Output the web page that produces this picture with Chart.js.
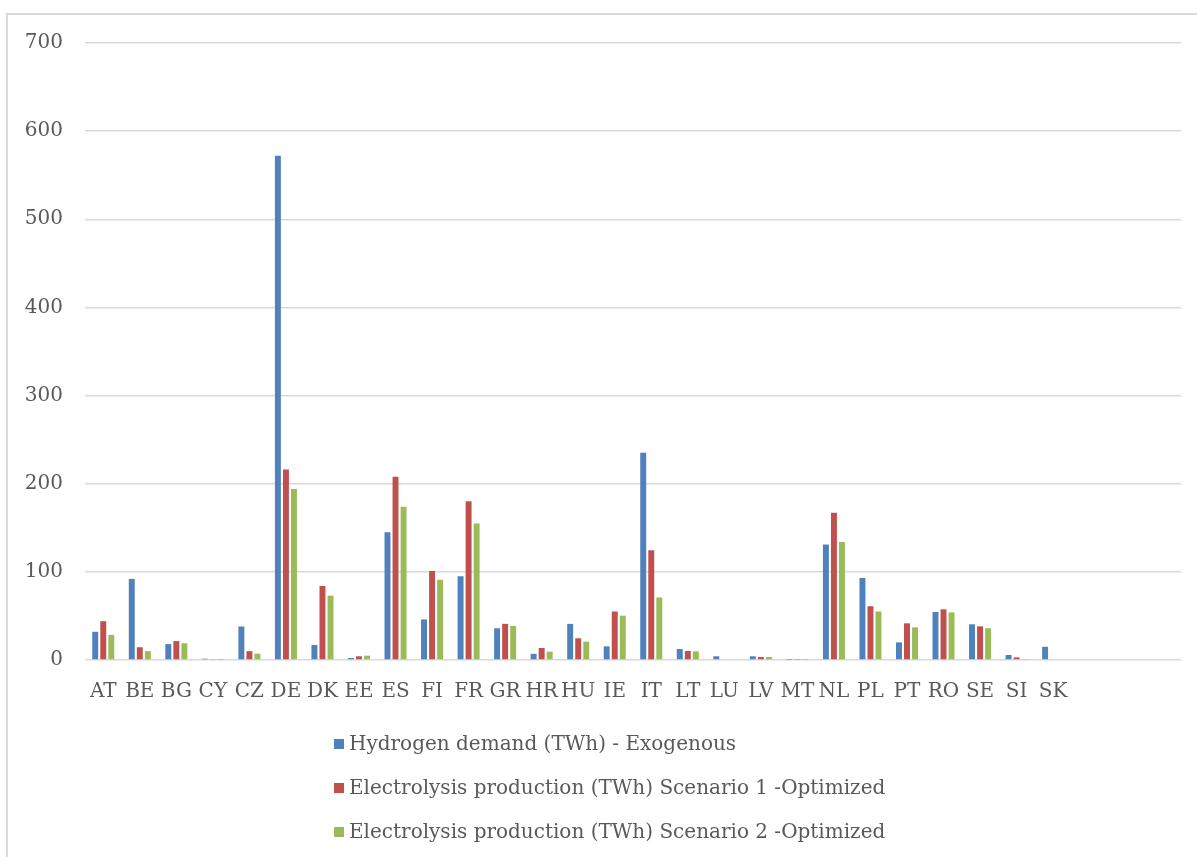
<!DOCTYPE html>
<html>
<head>
<meta charset="utf-8">
<script src="https://cdn.jsdelivr.net/npm/chart.js@4/dist/chart.umd.min.js"></script>
<style>
  html, body { margin: 0; padding: 0; background: #ffffff; }
  #wrap { position: relative; width: 1197px; height: 857px; }
  canvas { display: block; }
</style>
</head>
<body>
<div id="wrap"><canvas id="chart" width="1197" height="857"></canvas></div>
<script>
// Country codes (three spare slots at the end of the axis)
const countries = ['AT','BE','BG','CY','CZ','DE','DK','EE','ES','FI','FR','GR','HR','HU','IE','IT','LT','LU','LV','MT','NL','PL','PT','RO','SE','SI','SK','','',''];

// TWh per country
const hydrogenDemand = [32, 92, 18, 1.5, 38, 572, 17, 2.3, 145, 46, 95, 36, 7, 41, 15.5, 235, 12.5, 4.2, 4.2, 0.3, 131, 93, 20, 54.5, 40.5, 5.7, 15, null, null, null];
const scenario1      = [44, 14.5, 21.5, 1, 10, 216, 84, 4.2, 208, 101, 180, 41, 13.6, 24.6, 55, 124.5, 10.2, 0, 3.4, 0.5, 167, 61, 41.6, 57.5, 38.2, 3, 0, null, null, null];
const scenario2      = [28.5, 10, 19, 0.3, 7.2, 194, 73, 4.9, 174, 91, 155, 38.6, 9.5, 20.8, 50.3, 71, 9.8, 0, 3.4, 0.3, 134, 55, 37, 54, 36, 1.1, 0, null, null, null];

const seriesNames = [
  'Hydrogen demand (TWh) - Exogenous',
  'Electrolysis production (TWh) Scenario 1 -Optimized',
  'Electrolysis production (TWh) Scenario 2 -Optimized'
];
const seriesColors = ['#4f81bd', '#c0504d', '#9bbb59'];

const yTicks = [0, 100, 200, 300, 400, 500, 600, 700];

const FONT = "'DejaVu Serif', serif";
const TEXT = '#595959';

// White page with the light grey frame around the chart
const frame = {
  id: 'frame',
  beforeDraw(chart) {
    const ctx = chart.ctx;
    ctx.save();
    ctx.fillStyle = '#ffffff';
    ctx.fillRect(0, 0, chart.width, chart.height);
    ctx.strokeStyle = '#d9d9d9';
    ctx.lineWidth = 2;
    ctx.strokeRect(7, 14, chart.width + 20, chart.height + 20);
    ctx.restore();
  }
};

// Legend drawn as a left-aligned stack of entries under the axis
const stackedLegend = {
  id: 'stackedLegend',
  afterDraw(chart, args, opts) {
    const ctx = chart.ctx;
    ctx.save();
    ctx.font = opts.size + 'px ' + FONT;
    ctx.textBaseline = 'middle';
    ctx.textAlign = 'left';
    const sets = chart.data.datasets;
    const widths = sets.map(d => ctx.measureText(d.label).width);
    const blockW = opts.box + opts.gap + Math.max(...widths);
    const left = Math.round(opts.centerX - blockW / 2);
    sets.forEach((d, i) => {
      const cy = opts.top + i * opts.step;
      ctx.fillStyle = d.backgroundColor;
      ctx.fillRect(left, cy - opts.box / 2, opts.box, opts.box);
      ctx.fillStyle = TEXT;
      ctx.fillText(d.label, left + opts.box + opts.gap, cy + 1);
    });
    ctx.restore();
  }
};

Chart.defaults.font.family = FONT;
Chart.defaults.font.size = 20;
Chart.defaults.color = TEXT;

new Chart(document.getElementById('chart'), {
  type: 'bar',
  data: {
    labels: countries,
    datasets: [hydrogenDemand, scenario1, scenario2].map((values, i) => ({
      label: seriesNames[i],
      data: values,
      backgroundColor: seriesColors[i],
      borderWidth: 0,
      categoryPercentage: 0.66,
      barPercentage: 0.74
    }))
  },
  options: {
    responsive: false,
    animation: false,
    devicePixelRatio: 1,
    layout: { padding: { top: 43, right: 16, left: 0, bottom: 0 } },
    plugins: {
      legend: { display: false },
      tooltip: { enabled: false },
      stackedLegend: { size: 20, box: 10, gap: 5, centerX: 610, top: 744, step: 44 }
    },
    scales: {
      x: {
        grid: { display: false, drawTicks: false },
        border: { display: false },
        ticks: { padding: 20, font: { size: 20 }, color: TEXT, autoSkip: false, maxRotation: 0 },
        afterFit(scale) { scale.height = 197; }
      },
      y: {
        min: 0,
        max: 700,
        afterBuildTicks(scale) { scale.ticks = yTicks.map(v => ({ value: v })); },
        grid: { color: '#d9d9d9', lineWidth: 1.5, drawTicks: false },
        border: { display: false },
        ticks: { padding: 22, font: { size: 20 }, color: TEXT },
        afterFit(scale) { scale.width = 85; }
      }
    }
  },
  plugins: [frame, stackedLegend]
});
</script>
</body>
</html>
